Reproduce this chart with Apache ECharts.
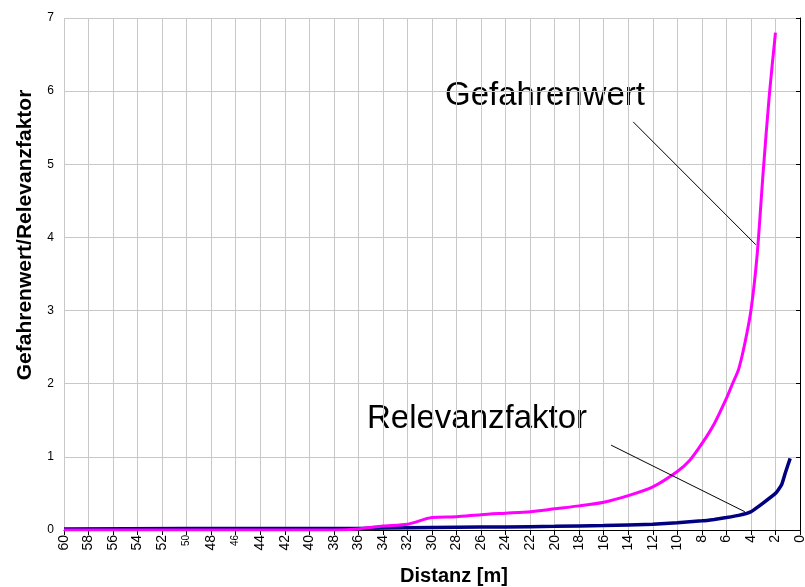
<!DOCTYPE html>
<html>
<head>
<meta charset="utf-8">
<script src="https://cdn.jsdelivr.net/npm/echarts@6/dist/echarts.min.js"></script>
<style>
  html, body { margin: 0; padding: 0; background: #fff; }
  #chart { width: 805px; height: 587px; }
</style>
</head>
<body>
<div id="chart"></div>
<script>
// Gefahrenwert (magenta) - Distanz [m] / Wert
const gefahrDist = [60, 50, 40, 38, 36, 34, 32, 30, 28, 26, 24, 22, 20, 18, 16, 14, 12, 10, 9, 8, 7, 6, 5.5, 5, 4.5, 4, 3.5, 3, 2.5, 2]
const gefahrWert = [0, 0, 0, 0, 0.015, 0.055, 0.08, 0.17, 0.18, 0.21, 0.23, 0.25, 0.29, 0.33, 0.38, 0.47, 0.59, 0.8, 0.95, 1.18, 1.45, 1.8, 2.0, 2.2, 2.55, 3.0, 3.75, 4.9, 5.95, 6.8]

// Relevanzfaktor (dunkelblau)
const relevDist = [60, 50, 40, 36, 32, 28, 24, 20, 16, 12, 10, 8, 7, 6, 5, 4, 2, 1.5, 1.2, 0.8]
const relevWert = [0.015, 0.02, 0.02, 0.022, 0.03, 0.038, 0.042, 0.05, 0.06, 0.08, 0.1, 0.125, 0.145, 0.17, 0.2, 0.25, 0.5, 0.62, 0.78, 0.98]

// leader lines for the annotations (in data units)
const gefahrLeader = [[13.6, 5.58], [3.6, 3.9]]
const relevLeader = [[15.4, 1.16], [4.5, 0.25]]

const font = 'Liberation Sans, Arial, sans-serif'

const chart = echarts.init(document.getElementById('chart'))

const zip = (xs, ys) => xs.map((x, i) => [x, ys[i]])

const option = {
  animation: false,
  backgroundColor: '#fff',
  grid: { left: 64, right: 5, top: 18, bottom: 57, outerBoundsMode: 'none' },
  xAxis: {
    type: 'value',
    inverse: true,
    min: 0,
    max: 60,
    interval: 2,
    name: 'Distanz [m]',
    nameLocation: 'middle',
    nameGap: 36,
    nameTextStyle: { fontFamily: font, fontSize: 20, fontWeight: 'bold', color: '#000', padding: [0, 0, 0, 44] },
    axisLine: { show: true, lineStyle: { color: '#000', width: 1 } },
    axisTick: { show: true, length: 5, lineStyle: { color: '#000' } },
    axisLabel: {
      rotate: 90,
      margin: 5,
      fontFamily: font,
      fontSize: 14,
      color: '#000',
      showMinLabel: true,
      showMaxLabel: true,
      formatter: (v) => (v === 50 || v === 46) ? '{s|' + v + '}' : String(v),
      rich: { s: { fontSize: 10, fontFamily: font, color: '#000' } }
    },
    splitLine: { show: true, lineStyle: { color: '#c8c8c8', width: 1 } }
  },
  yAxis: {
    type: 'value',
    min: 0,
    max: 7,
    interval: 1,
    name: 'Gefahrenwert/Relevanzfaktor',
    nameLocation: 'middle',
    nameGap: 28,
    nameTextStyle: { fontFamily: font, fontSize: 21, fontWeight: 'bold', color: '#000', padding: [0, 0, 0, 78] },
    axisLine: { show: true, lineStyle: { color: '#000', width: 1 } },
    axisTick: { show: true, length: 4, lineStyle: { color: '#000' } },
    axisLabel: { fontFamily: font, fontSize: 12, color: '#000', margin: 10 },
    splitLine: { show: true, lineStyle: { color: '#c8c8c8', width: 1 } }
  },
  series: [
    {
      name: 'Relevanzfaktor',
      type: 'line',
      data: zip(relevDist, relevWert),
      showSymbol: false,
      smooth: 0.15,
      lineStyle: { color: '#000080', width: 3.5 },
      markLine: {
        silent: true,
        symbol: ['none', 'none'],
        label: { show: false },
        lineStyle: { color: '#000', width: 1, type: 'solid' },
        data: [[{ coord: relevLeader[0] }, { coord: relevLeader[1] }]]
      }
    },
    {
      name: 'Gefahrenwert',
      type: 'line',
      data: zip(gefahrDist, gefahrWert),
      showSymbol: false,
      smooth: 0.25,
      lineStyle: { color: '#ff00ff', width: 3 },
      markLine: {
        silent: true,
        symbol: ['none', 'none'],
        label: { show: false },
        lineStyle: { color: '#000', width: 1, type: 'solid' },
        data: [[{ coord: gefahrLeader[0] }, { coord: gefahrLeader[1] }]]
      }
    }
  ],
  graphic: [
    {
      type: 'text',
      style: { text: 'Gefahrenwert', x: 445, y: 96, fontFamily: font, fontSize: 33, fill: '#000', verticalAlign: 'middle' }
    },
    {
      type: 'text',
      style: { text: 'Relevanzfaktor', x: 367, y: 419, fontFamily: font, fontSize: 33, fill: '#000', verticalAlign: 'middle' }
    }
  ]
}

chart.setOption(option)
</script>
</body>
</html>
